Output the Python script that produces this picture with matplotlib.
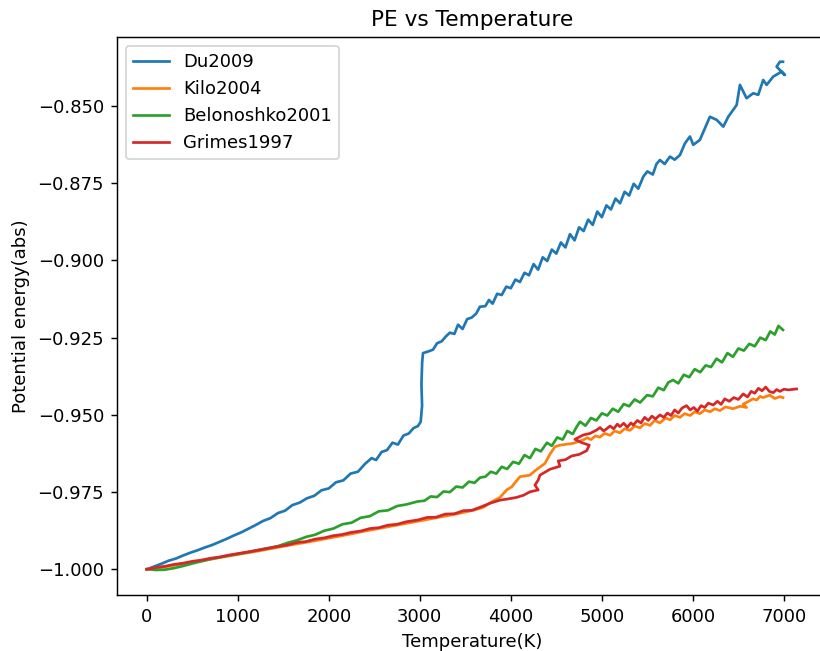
import matplotlib
matplotlib.use("Agg")
import matplotlib.pyplot as plt

# Du2009
du_T = [0, 80, 160, 240, 320, 400, 480, 560, 640, 720, 800, 880, 960, 1040, 1120,
        1200, 1280, 1360, 1440, 1520, 1600, 1680, 1760, 1840, 1920, 2000, 2080, 2160,
        2240, 2320, 2400, 2470, 2520, 2580, 2640, 2700, 2760, 2820, 2880, 2930, 2980,
        3010, 3025, 3018, 3026, 3035, 3090, 3145, 3190, 3240, 3290, 3330, 3380, 3420,
        3470, 3520, 3570, 3620, 3660, 3720, 3760, 3800, 3850, 3900, 3950, 4000, 4050,
        4100, 4150, 4200, 4250, 4300, 4350, 4400, 4450, 4500, 4550, 4600, 4650, 4700,
        4750, 4800, 4850, 4900, 4950, 5000, 5050, 5100, 5150, 5200, 5250, 5300, 5350,
        5400, 5455, 5500, 5560, 5600, 5638, 5690, 5748, 5800, 5858, 5913, 5968, 6004,
        6077, 6187, 6261, 6334, 6389, 6481, 6517, 6590, 6663, 6718, 6773, 6810, 6883,
        6975, 7011, 6920, 6956, 6990]
du_E = [-1.0000, -0.9991, -0.9982, -0.9972, -0.9965, -0.9955, -0.9946, -0.9938,
        -0.9929, -0.9921, -0.9911, -0.9901, -0.9890, -0.9880, -0.9868, -0.9856,
        -0.9843, -0.9834, -0.9818, -0.9810, -0.9792, -0.9784, -0.9770, -0.9762,
        -0.9744, -0.9738, -0.9718, -0.9712, -0.9690, -0.9684, -0.9658, -0.9640,
        -0.9646, -0.9620, -0.9614, -0.9590, -0.9596, -0.9567, -0.9560, -0.9543,
        -0.9536, -0.9522, -0.9470, -0.9400, -0.9330, -0.9300, -0.9295, -0.9289,
        -0.9268, -0.9262, -0.9245, -0.9234, -0.9238, -0.9208, -0.9222, -0.9190,
        -0.9185, -0.9172, -0.9150, -0.9148, -0.9128, -0.9140, -0.9108, -0.9112,
        -0.9085, -0.9090, -0.9062, -0.9070, -0.9040, -0.9048, -0.9012, -0.9030,
        -0.8990, -0.9002, -0.8965, -0.8978, -0.8942, -0.8958, -0.8915, -0.8935,
        -0.8893, -0.8905, -0.8868, -0.8885, -0.8842, -0.8860, -0.8822, -0.8835,
        -0.8800, -0.8815, -0.8778, -0.8790, -0.8752, -0.8768, -0.8729, -0.8712,
        -0.8722, -0.8688, -0.8675, -0.8688, -0.8664, -0.8674, -0.8659, -0.8621,
        -0.8599, -0.8626, -0.8610, -0.8535, -0.8545, -0.8567, -0.8535, -0.8497,
        -0.8432, -0.8475, -0.8459, -0.8464, -0.8416, -0.8432, -0.8405, -0.8389,
        -0.8400, -0.8373, -0.8357, -0.8357]

# Kilo2004
kilo_T = [0, 200, 400, 600, 800, 1000, 1200, 1400, 1600, 1800, 2000, 2200, 2400,
          2600, 2800, 3000, 3200, 3400, 3600, 3700, 3800, 3881, 3954, 4009, 4100,
          4210, 4265, 4375, 4430, 4485, 4540, 4686, 4796, 4840, 4880, 4930, 4979,
          5030, 5090, 5140, 5199, 5250, 5310, 5360, 5419, 5470, 5530, 5580, 5638,
          5700, 5750, 5800, 5858, 5910, 5970, 6020, 6077, 6130, 6190, 6240, 6297,
          6360, 6440, 6520, 6590, 6553, 6620, 6660, 6700, 6740, 6770, 6846, 6900,
          6956, 6990]
kilo_E = [-1.0000, -0.9992, -0.9982, -0.9972, -0.9962, -0.9952, -0.9942, -0.9931,
          -0.9920, -0.9910, -0.9899, -0.9888, -0.9876, -0.9865, -0.9854, -0.9843,
          -0.9832, -0.9821, -0.9808, -0.9799, -0.9780, -0.9767, -0.9743, -0.9733,
          -0.9700, -0.9695, -0.9681, -0.9657, -0.9627, -0.9603, -0.9598, -0.9592,
          -0.9581, -0.9574, -0.9580, -0.9568, -0.9572, -0.9560, -0.9566, -0.9552,
          -0.9558, -0.9545, -0.9550, -0.9536, -0.9542, -0.9528, -0.9534, -0.9518,
          -0.9526, -0.9510, -0.9516, -0.9502, -0.9508, -0.9496, -0.9502, -0.9490,
          -0.9496, -0.9484, -0.9490, -0.9480, -0.9486, -0.9474, -0.9480, -0.9472,
          -0.9476, -0.9465, -0.9455, -0.9448, -0.9452, -0.9440, -0.9444, -0.9436,
          -0.9447, -0.9441, -0.9444]

# Belonoshko2001
bel_T = [0, 100, 200, 300, 400, 500, 600, 700, 800, 900, 1000, 1100, 1200, 1300,
         1440, 1550, 1650, 1750, 1850, 1950, 2050, 2150, 2250, 2350, 2450, 2550,
         2650, 2750, 2850, 2980, 3050, 3120, 3190, 3260, 3330, 3400, 3470, 3540,
         3600, 3662, 3720, 3780, 3840, 3900, 3960, 4025, 4090, 4150, 4210, 4270,
         4330, 4397, 4450, 4510, 4570, 4620, 4680, 4720, 4760, 4820, 4880, 4940,
         5000, 5060, 5120, 5180, 5240, 5300, 5360, 5420, 5497, 5560, 5620, 5680,
         5730, 5782, 5840, 5900, 5960, 6020, 6080, 6140, 6200, 6260, 6320, 6380,
         6440, 6500, 6560, 6620, 6680, 6740, 6800, 6850, 6900, 6940, 6970, 6990]
bel_E = [-0.9999, -1.0002, -1.0001, -0.9996, -0.9989, -0.9981, -0.9974, -0.9967,
         -0.9961, -0.9955, -0.9950, -0.9945, -0.9939, -0.9933, -0.9925, -0.9914,
         -0.9906, -0.9895, -0.9888, -0.9875, -0.9868, -0.9854, -0.9849, -0.9833,
         -0.9828, -0.9812, -0.9809, -0.9795, -0.9790, -0.9780, -0.9778, -0.9764,
         -0.9766, -0.9748, -0.9750, -0.9732, -0.9735, -0.9716, -0.9720, -0.9703,
         -0.9700, -0.9684, -0.9690, -0.9668, -0.9675, -0.9652, -0.9658, -0.9630,
         -0.9640, -0.9610, -0.9618, -0.9590, -0.9600, -0.9573, -0.9580, -0.9552,
         -0.9562, -0.9540, -0.9522, -0.9535, -0.9510, -0.9518, -0.9495, -0.9502,
         -0.9480, -0.9490, -0.9465, -0.9472, -0.9450, -0.9460, -0.9436, -0.9440,
         -0.9412, -0.9420, -0.9395, -0.9387, -0.9398, -0.9370, -0.9378, -0.9352,
         -0.9362, -0.9340, -0.9345, -0.9318, -0.9330, -0.9300, -0.9312, -0.9285,
         -0.9292, -0.9270, -0.9278, -0.9250, -0.9258, -0.9230, -0.9240, -0.9212,
         -0.9220, -0.9225]

# Grimes1997
gri_T = [0, 100, 200, 300, 400, 500, 600, 700, 800, 900, 1000, 1100, 1200, 1332,
         1440, 1550, 1650, 1750, 1850, 1950, 2050, 2150, 2250, 2350, 2450, 2550,
         2650, 2750, 2850, 2980, 3080, 3180, 3280, 3380, 3480, 3570, 3662, 3771,
         3881, 3970, 4064, 4140, 4210, 4301, 4265, 4301, 4320, 4430, 4540, 4521,
         4600, 4668, 4750, 4833, 4862, 4780, 4704, 4796, 4870, 4943, 4980, 5020,
         5053, 5090, 5130, 5170, 5199, 5240, 5280, 5320, 5345, 5390, 5430, 5470,
         5510, 5550, 5590, 5638, 5680, 5720, 5760, 5800, 5840, 5880, 5931, 5970,
         6010, 6050, 6090, 6130, 6170, 6224, 6270, 6310, 6350, 6400, 6450, 6500,
         6553, 6600, 6640, 6680, 6720, 6760, 6800, 6840, 6883, 6920, 6956, 7000,
         7050, 7140]
gri_E = [-1.0000, -0.9994, -0.9990, -0.9984, -0.9980, -0.9974, -0.9970, -0.9964,
         -0.9960, -0.9954, -0.9949, -0.9944, -0.9939, -0.9932, -0.9926, -0.9921,
         -0.9913, -0.9910, -0.9902, -0.9898, -0.9891, -0.9887, -0.9880, -0.9876,
         -0.9868, -0.9865, -0.9857, -0.9854, -0.9846, -0.9840, -0.9832, -0.9831,
         -0.9821, -0.9820, -0.9810, -0.9809, -0.9799, -0.9786, -0.9776, -0.9772,
         -0.9767, -0.9760, -0.9749, -0.9743, -0.9727, -0.9711, -0.9695, -0.9676,
         -0.9666, -0.9649, -0.9645, -0.9633, -0.9628, -0.9616, -0.9598, -0.9590,
         -0.9579, -0.9565, -0.9560, -0.9549, -0.9541, -0.9552, -0.9545, -0.9536,
         -0.9545, -0.9530, -0.9538, -0.9527, -0.9540, -0.9526, -0.9533, -0.9518,
         -0.9526, -0.9508, -0.9518, -0.9504, -0.9513, -0.9500, -0.9508, -0.9494,
         -0.9502, -0.9484, -0.9494, -0.9478, -0.9470, -0.9484, -0.9476, -0.9488,
         -0.9470, -0.9476, -0.9462, -0.9468, -0.9456, -0.9466, -0.9448, -0.9456,
         -0.9444, -0.9450, -0.9432, -0.9442, -0.9424, -0.9430, -0.9414, -0.9422,
         -0.9410, -0.9424, -0.9428, -0.9418, -0.9424, -0.9417, -0.9419, -0.9416]

series = [
    ("Du2009", du_T, du_E),
    ("Kilo2004", kilo_T, kilo_E),
    ("Belonoshko2001", bel_T, bel_E),
    ("Grimes1997", gri_T, gri_E),
]

fig = plt.figure(figsize=(820 / 130, 651 / 130), dpi=130)
ax = fig.add_axes([0.1423, 0.0860, 0.8674, 0.8576])

for name, t, e in series:
    ax.plot(t, e, label=name)

ax.set_xlim(-330, 7484)
ax.set_ylim(-1.0083, -0.8276)
ax.set_title("PE vs Temperature")
ax.set_xlabel("Temperature(K)")
ax.set_ylabel("Potential energy(abs)")
ax.legend(loc="upper left")

fig.savefig("out.png", dpi=130)
